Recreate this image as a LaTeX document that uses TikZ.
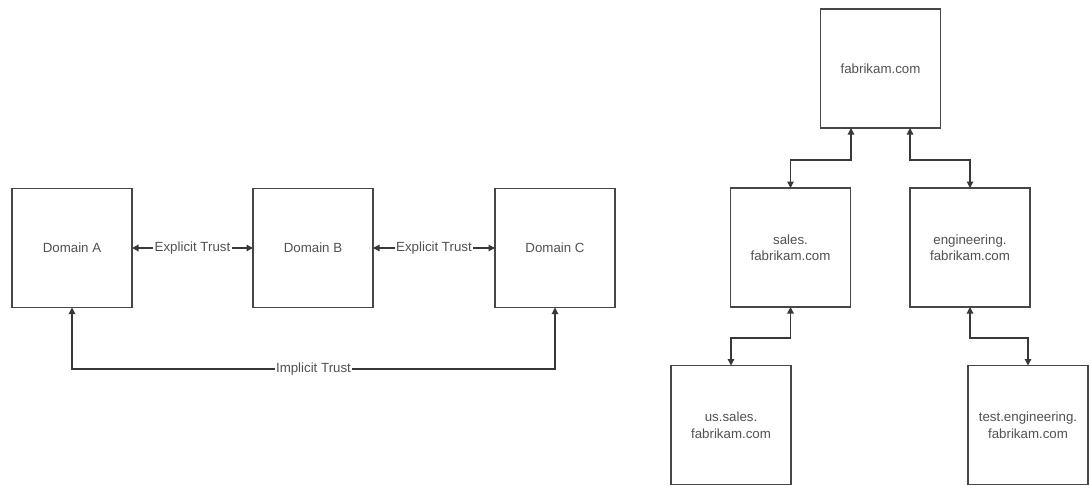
\documentclass[tikz,border=0pt]{standalone}
\usepackage{fontspec}
\setmainfont{Liberation Sans}
\usetikzlibrary{arrows.meta}
\begin{document}
\begin{tikzpicture}[x=1pt,y=-1pt,
  dombox/.style={draw=black!72, line width=1.3pt, minimum width=120pt, minimum height=119pt,
    inner sep=2pt, outer sep=0pt, align=center, text=black!68,
    font=\fontsize{13.3}{16.5}\selectfont},
  link/.style={draw=black!78, line width=1.2pt, {Triangle[length=6.5pt,width=6.5pt]}-{Triangle[length=6.5pt,width=6.5pt]}},
  tag/.style={fill=white, inner sep=1.5pt, text=black!68, font=\fontsize{13.3}{16.5}\selectfont}]
\useasboundingbox (0,0) rectangle (1089,485);
\fill[white] (0,0) rectangle (1089,485);

% trust between peer domains
\node[dombox] (A) at (72,248) {Domain A};
\node[dombox] (B) at (313,248) {Domain B};
\node[dombox] (C) at (555,248) {Domain C};
\coordinate (imp) at (0,369);

\draw[link] (A.east) -- node[tag] {Explicit Trust} (B.west);
\draw[link] (B.east) -- node[tag] {Explicit Trust} (C.west);
\draw[link] (A.south) -- (A.south |- imp) -- node[tag] {Implicit Trust} (C.south |- imp) -- (C.south);

% domain tree
\node[dombox] (fab) at (880.5,68.5) {fabrikam.com};
\node[dombox] (sales) at (790.5,247.5) {sales.\\fabrikam.com};
\node[dombox] (eng) at (970,247.5) {engineering.\\fabrikam.com};
\node[dombox] (us) at (731,425) {us.sales.\\fabrikam.com};
\node[dombox] (test) at (1028,425) {test.engineering.\\fabrikam.com};

\draw[link] ([xshift=-29.5pt]fab.south) -- ++(0,32) -| (sales.north);
\draw[link] ([xshift=29.5pt]fab.south) -- ++(0,32) -| (eng.north);
\draw[link] (sales.south) -- ++(0,31) -| (us.north);
\draw[link] (eng.south) -- ++(0,31) -| (test.north);
\end{tikzpicture}
\end{document}
